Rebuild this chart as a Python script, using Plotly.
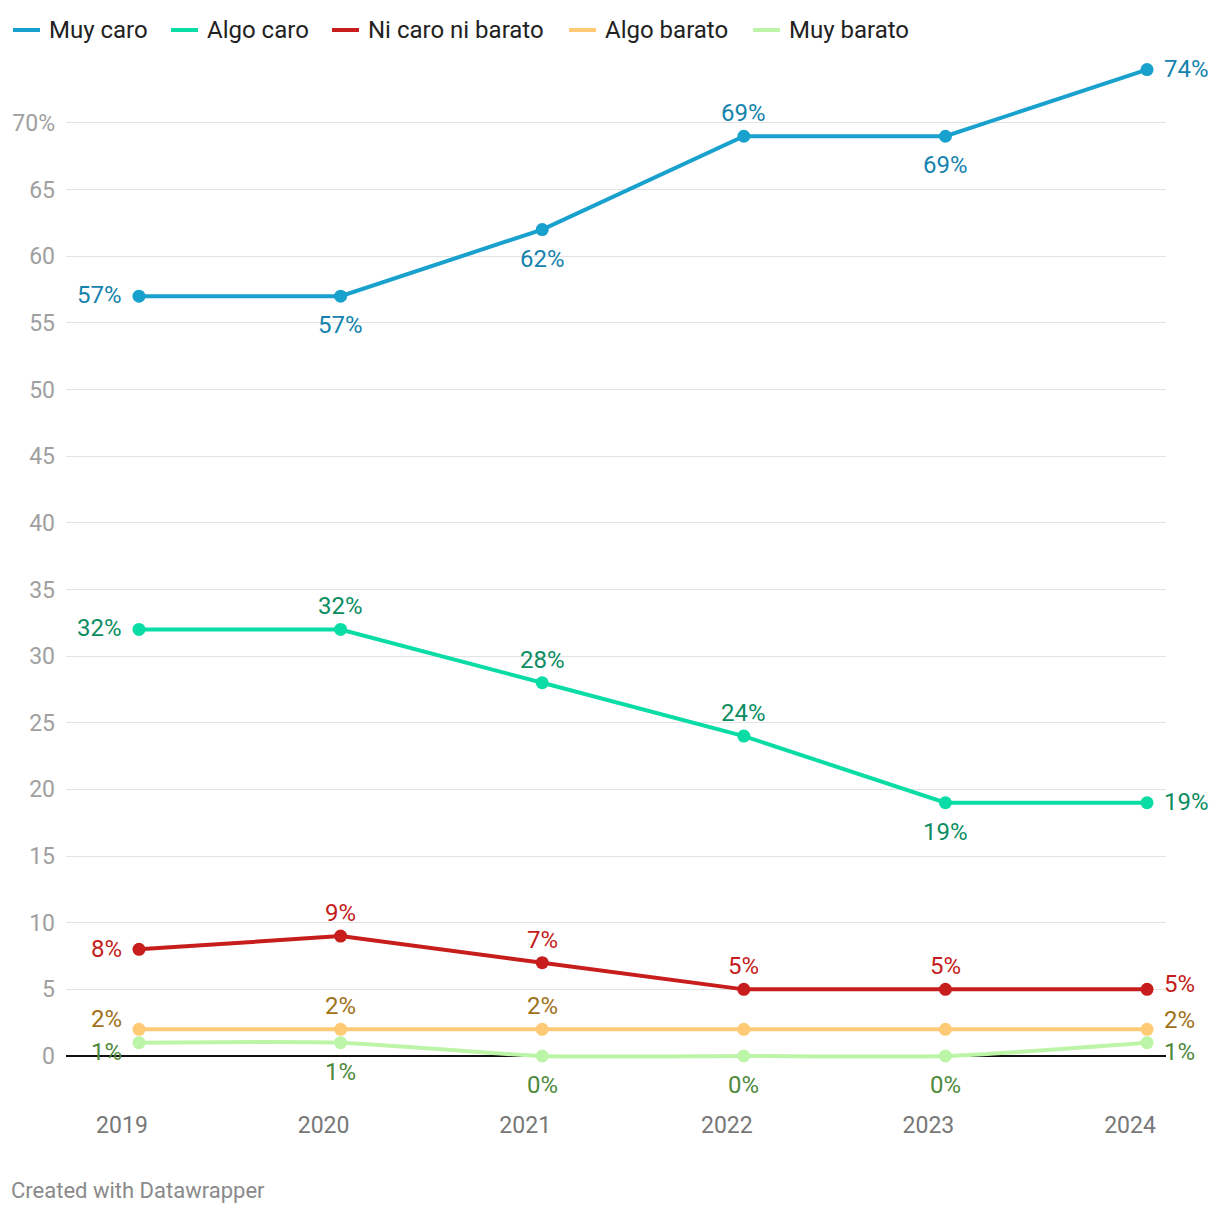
import plotly.graph_objects as go

years = [2019, 2020, 2021, 2022, 2023, 2024]
series_names = ["Muy caro", "Algo caro", "Ni caro ni barato", "Algo barato", "Muy barato"]
muy_caro = [57, 57, 62, 69, 69, 74]
algo_caro = [32, 32, 28, 24, 19, 19]
ni_caro = [8, 9, 7, 5, 5, 5]
algo_barato = [2, 2, 2, 2, 2, 2]
muy_barato = [1, 1, 0, 0, 0, 1]

line_colors = ["#18a1cd", "#09dca4", "#c71e1d", "#ffca76", "#bdf5a8"]
label_colors = ["#1483ad", "#0b8d62", "#c41c1c", "#a0711b", "#4f8a3c"]
# label placement per point: L=left, A=above, B=below, R=right, N=none
placements = [
    ["L", "B", "B", "A", "B", "R"],
    ["L", "A", "A", "A", "B", "R"],
    ["L", "A", "A", "A", "A", "R"],
    ["L", "A", "A", "N", "N", "R"],
    ["L", "B", "B", "B", "B", "R"],
]
# vertical nudge (px) of side labels per series
left_nudge = [1, 1, 0, 10, -9]
right_nudge = [1, 1, 5, 9, -9]
all_values = [muy_caro, algo_caro, ni_caro, algo_barato, muy_barato]

y_ticks = list(range(0, 75, 5))
y_ticktext = [str(v) if v != 70 else "70%" for v in y_ticks]

FONT = "Roboto, sans-serif"
W, H = 1220, 1214
ML, MR, MT, MB = 66, 54, 50, 114
PW, PH = W - ML - MR, H - MT - MB


def px_x(px):
    return (px - ML) / PW


def px_y(py):
    return (H - MB - py) / PH


fig = go.Figure()

for name, vals, lc, i in zip(series_names, all_values, line_colors, range(5)):
    fig.add_trace(go.Scatter(
        x=years, y=vals, name=name, mode="lines+markers",
        line=dict(color=lc, width=4, shape="spline" if i == 4 else "linear", smoothing=0.6),
        marker=dict(color=lc, size=13),
        hoverinfo="skip", showlegend=False,
    ))

annotations = []
for vals, tc, plc, ln, rn in zip(all_values, label_colors, placements, left_nudge, right_nudge):
    for x, v, p in zip(years, vals, plc):
        if p == "N":
            continue
        kw = dict(x=x, y=v, xref="x", yref="y", text=f"{v}%", showarrow=False,
                  font=dict(family=FONT, size=24, color=tc))
        if p == "L":
            kw.update(xanchor="right", xshift=-15, yshift=ln)
        elif p == "A":
            kw.update(xanchor="center", yshift=23)
        elif p == "B":
            kw.update(xanchor="center", yshift=-29)
        elif p == "R":
            kw.update(xanchor="left", xshift=15, yshift=rn)
        annotations.append(kw)

# manual legend (line swatches + text)
legend_swatch_px = [11, 169, 330, 567, 751]
shapes = []
for name, lc, sx in zip(series_names, line_colors, legend_swatch_px):
    shapes.append(dict(type="line", xref="paper", yref="paper",
                       x0=px_x(sx + 2), x1=px_x(sx + 29), y0=px_y(30), y1=px_y(30),
                       line=dict(color=lc, width=4)))
    annotations.append(dict(x=px_x(sx + 36), y=px_y(30), xref="paper", yref="paper",
                            text=name, showarrow=False, xanchor="left", yanchor="middle",
                            font=dict(family=FONT, size=24, color="#222222")))

annotations.append(dict(x=px_x(9), y=px_y(1190), xref="paper", yref="paper",
                        text="Created with Datawrapper", showarrow=False,
                        xanchor="left", yanchor="middle",
                        font=dict(family=FONT, size=22, color="#8a8a8a")))

fig.update_layout(
    width=W, height=H,
    margin=dict(l=ML, r=MR, t=MT, b=MB),
    plot_bgcolor="white", paper_bgcolor="white",
    font=dict(family=FONT, size=23, color="#222"),
    showlegend=False,
    xaxis=dict(range=[2018.638, 2024.094], tickvals=years, ticktext=[str(y) for y in years],
               showgrid=False, zeroline=False, showline=False, ticks="",
               tickfont=dict(size=23, color="#777777"), ticklabelshift=-17, ticklabelstandoff=9,
               fixedrange=True),
    yaxis=dict(range=[-3.3, 75.47], tickvals=y_ticks, ticktext=y_ticktext,
               showgrid=True, gridcolor="#e3e3e3", gridwidth=1,
               zeroline=True, zerolinecolor="#111111", zerolinewidth=2,
               ticks="", tickfont=dict(size=23, color="#a0a0a0"), ticklabelstandoff=10,
               fixedrange=True),
    annotations=annotations,
    shapes=shapes,
)

fig.write_html("out.html", config={"displayModeBar": False},
               post_script="document.body.style.margin='0px';")
